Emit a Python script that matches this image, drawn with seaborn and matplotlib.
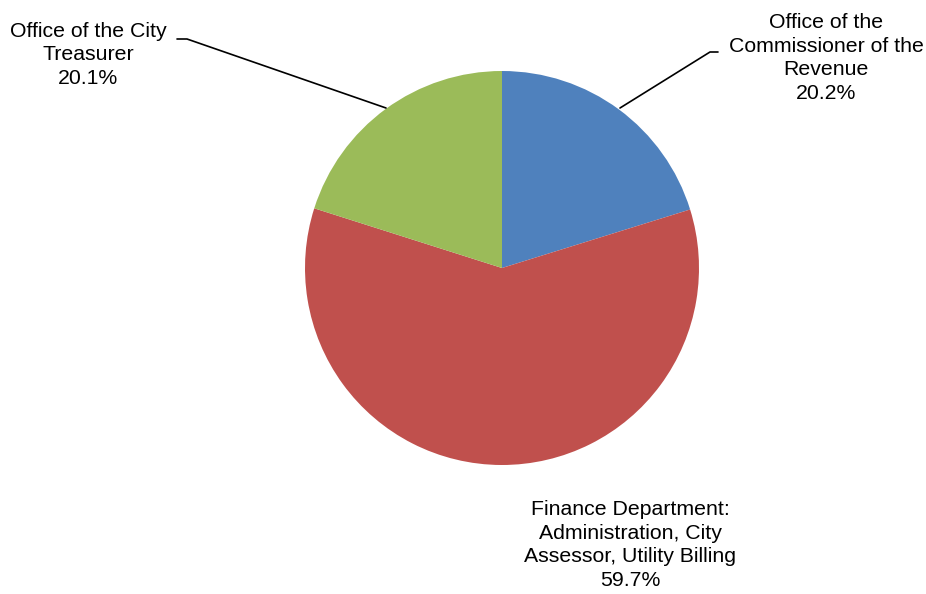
import matplotlib
matplotlib.use("Agg")
import matplotlib.pyplot as plt
import seaborn as sns

sns.set_theme(style="white")
plt.rcParams['font.family'] = ['Liberation Sans', 'DejaVu Sans']

categories = ["Office of the\nCommissioner of the\nRevenue",
              "Finance Department:\nAdministration, City\nAssessor, Utility Billing",
              "Office of the City\nTreasurer"]
values = [20.2, 59.7, 20.1]
colors = ["#4F81BD", "#C0504D", "#9BBB59"]

W, H = 926, 594
fig = plt.figure(figsize=(W / 100, H / 100), dpi=100)
ax = fig.add_axes([0, 0, 1, 1])

cx, cy, r = 502, H - 268, 197
ax.pie(values, colors=colors, startangle=90, counterclock=False,
       center=(cx, cy), radius=r, frame=True,
       wedgeprops=dict(linewidth=0))
ax.set_xlim(0, W)
ax.set_ylim(0, H)
ax.set_aspect("equal")
ax.axis("off")

fs = 15.3
ls = 1.3
labels = [f"{c}\n{v:.1f}%" for c, v in zip(categories, values)]
ax.text(826, H - 58, labels[0], ha="center", va="center", fontsize=fs, color="black", linespacing=ls)
ax.text(630, H - 545, labels[1], ha="center", va="center", fontsize=fs, color="black", linespacing=ls)
ax.text(88, H - 55, labels[2], ha="center", va="center", fontsize=fs, color="black", linespacing=ls)

# leader lines
ax.plot([620, 710, 718], [H - 108, H - 52, H - 52], color="black", lw=1.2)
ax.plot([386, 187, 177], [H - 108, H - 39, H - 39], color="black", lw=1.2)

fig.savefig("out.png", dpi=100)
